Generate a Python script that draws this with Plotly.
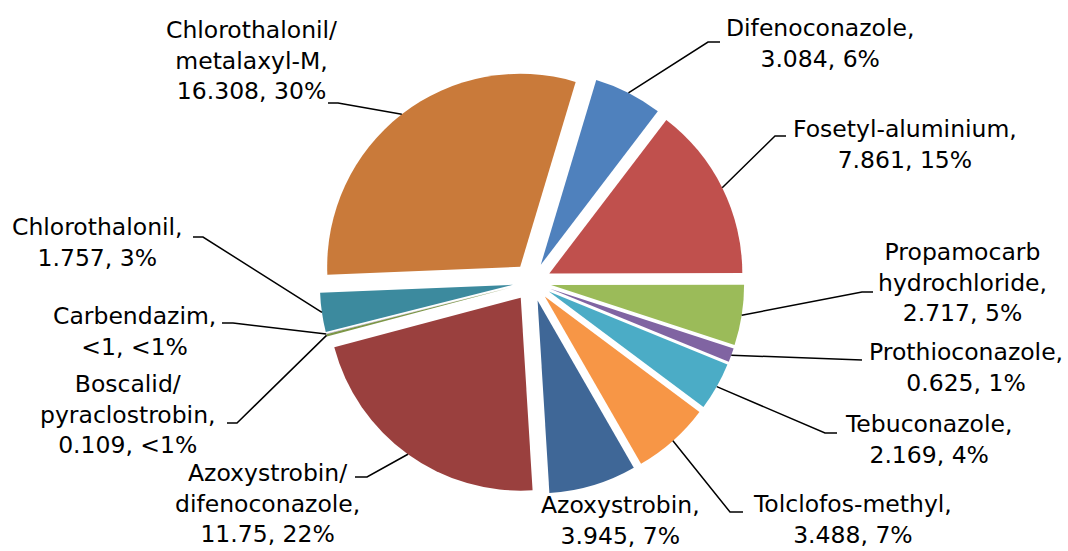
import math
import plotly.graph_objects as go

W, H = 1068, 551

# Fungicide active substances, in slice order (clockwise)
names = [
    "Difenoconazole",
    "Fosetyl-aluminium",
    "Propamocarb<br>hydrochloride",
    "Prothioconazole",
    "Tebuconazole",
    "Tolclofos-methyl",
    "Azoxystrobin",
    "Azoxystrobin/<br>difenoconazole",
    "Boscalid/<br>pyraclostrobin",
    "Carbendazim",
    "Chlorothalonil",
    "Chlorothalonil/<br>metalaxyl-M",
]
amounts = [3.084, 7.861, 2.717, 0.625, 2.169, 3.488, 3.945, 11.75, 0.109, 0.01, 1.757, 16.308]
amount_text = ["3.084", "7.861", "2.717", "0.625", "2.169", "3.488", "3.945",
               "11.75", "0.109", "<1", "1.757", "16.308"]
share_text = ["6%", "15%", "5%", "1%", "4%", "7%", "7%", "22%", "<1%", "<1%", "3%", "30%"]

colors = ["#4F81BD", "#C0504D", "#9BBB59", "#8064A2", "#4BACC6", "#F79646",
          "#3F6797", "#9A403E", "#7C9647", "#665082", "#3C8A9E", "#C97A3A"]

# label block centres (px) and leader elbows (px); None = no leader line
label_pos = [
    (820, 44), (905, 144), (962, 282), (966, 367), (928, 439), (852, 519),
    (620, 520), (267, 503), (128, 414), (134, 331), (97, 242), (251, 60),
]
elbows = [
    [(708, 42), (720, 42)],
    [(775, 136), (786, 136)],
    [(862, 292), (873, 292)],
    [(862, 360)],
    [(825, 433), (837, 433)],
    [(730, 512), (743, 512)],
    None,
    [(367, 477), (355, 477)],
    [(237, 423), (227, 423)],
    [(233, 323), (222, 323)],
    [(203, 237), (193, 237)],
    [(338, 103), (328, 103)],
]

PULL = 0.1
ROTATION = 16.7
dom_x = [0.25, 0.7463]
dom_y = [0.1029, 0.8735]

fig = go.Figure(go.Pie(
    labels=[n.replace("<br>", " ") for n in names],
    values=amounts,
    sort=False,
    direction="clockwise",
    rotation=ROTATION,
    pull=[PULL] * len(amounts),
    marker=dict(colors=colors, line=dict(width=0)),
    textinfo="none",
    hoverinfo="label+value+percent",
    showlegend=False,
    domain=dict(x=dom_x, y=dom_y),
))

# pie geometry in pixels (same rules plotly uses for the pie)
rx = W * (dom_x[1] - dom_x[0]) / 2
ry = H * (dom_y[1] - dom_y[0]) / 2
r = min(rx, ry) / (1 + PULL)
cx = W * (dom_x[0] + dom_x[1]) / 2
cy = H * (1 - (dom_y[0] + dom_y[1]) / 2)
total = sum(amounts)


def px(x, y):
    return x / W, 1 - y / H


annotations = []
shapes = []
acc = 0.0
for i, v in enumerate(amounts):
    mid = math.radians(ROTATION + (acc + v / 2) / total * 360)
    acc += v
    ex = cx + r * (1 + PULL) * math.sin(mid)
    ey = cy - r * (1 + PULL) * math.cos(mid)
    lx, ly = label_pos[i]
    ax, ay = px(lx, ly)
    annotations.append(dict(
        x=ax, y=ay, xref="paper", yref="paper", xanchor="center", yanchor="middle",
        text=f"{names[i]},<br>{amount_text[i]}, {share_text[i]}",
        showarrow=False, align="center",
        font=dict(family="DejaVu Sans", size=23.5, color="#000000"),
    ))
    if elbows[i]:
        pts = [(ex, ey)] + elbows[i]
        path = "M " + " L ".join(f"{px(x, y)[0]:.5f},{px(x, y)[1]:.5f}" for x, y in pts)
        shapes.append(dict(type="path", path=path, xref="paper", yref="paper",
                           line=dict(color="#000000", width=1.5)))

fig.update_layout(
    width=W, height=H, autosize=False,
    margin=dict(l=0, r=0, t=0, b=0),
    paper_bgcolor="#FFFFFF", plot_bgcolor="#FFFFFF",
    annotations=annotations, shapes=shapes,
)

fig.write_html("out.html")
